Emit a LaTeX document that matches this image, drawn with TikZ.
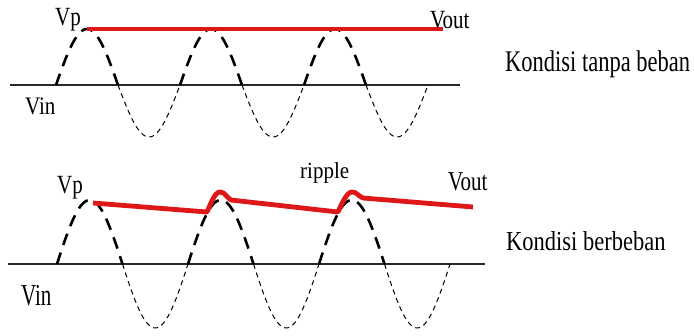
\documentclass[tikz,border=0pt]{standalone}
\usepackage{fontspec}
\setmainfont{Liberation Serif}
\definecolor{redline}{RGB}{222,24,24}
\definecolor{axisgray}{RGB}{40,40,40}
\tikzset{
  axisline/.style={draw=axisgray, line width=1.3pt},
  poswave/.style={line width=2.6pt, dash pattern=on 12pt off 8pt, black},
  negwave/.style={line width=1pt, dash pattern=on 5pt off 4pt, black},
  outline/.style={draw=redline, line width=4.8pt, line join=round},
  lbl/.style={inner sep=0pt, anchor=base west, font=\fontsize{21}{21}\selectfont},
  bigl/.style={inner sep=0pt, anchor=base west, font=\fontsize{22.5}{22.5}\selectfont}
}
\begin{document}
\begin{tikzpicture}[x=1pt,y=-1pt]
\useasboundingbox (0,0) rectangle (694,335);
\fill[white] (0,0) rectangle (694,335);

% ---------- top panel ----------
\draw[axisline] (10,85) -- (460,85);
\foreach \a/\b in {56/118,180/242,304/366}{
  \draw[poswave] plot[domain=\a:\b, samples=40, smooth] ({\x},{85-56*sin(2.903226*(\x-56))});
}
\foreach \a/\b in {118/180,242/304,366/428}{
  \draw[negwave] plot[domain=\a:\b, samples=40, smooth] ({\x},{85-52*sin(2.903226*(\x-56))});
}
\draw[outline] (87,29) -- (443,29);
\node[lbl] (vp1) at (55,25) {\scalebox{1}[1.25]{Vp}};
\node[lbl] (vin1) at (25,114) {\scalebox{1}[1.2]{Vin}};
\node[lbl] (vout1) at (430,28) {\scalebox{1}[1.25]{Vout}};
\node[bigl] (k1) at (505,71.5) {\scalebox{1}[1.33]{Kondisi tanpa beban}};

% ---------- bottom panel ----------
\draw[axisline] (8,264) -- (485,264);
\foreach \a/\b in {57/122.5,188/253.5,319/384.5}{
  \draw[poswave] plot[domain=\a:\b, samples=40, smooth] ({\x},{264-64*sin(2.748092*(\x-57))});
}
\foreach \a/\b in {122.5/188,253.5/319,384.5/450}{
  \draw[negwave] plot[domain=\a:\b, samples=40, smooth] ({\x},{264-64*sin(2.748092*(\x-57))});
}
\draw[outline] (93,203) -- (207,212)
  .. controls (211,203) and (215,192) .. (220,192)
  .. controls (225,192) and (226,197) .. (231,200)
  -- (338,212)
  .. controls (342,203) and (347,192) .. (352,192)
  .. controls (357,192) and (358,196) .. (363,198)
  -- (473,207);
\node[lbl] (vp2) at (57,193) {\scalebox{1}[1.25]{Vp}};
\node[lbl] (vin2) at (21,305) {\scalebox{1}[1.45]{Vin}};
\node[lbl] (rip) at (300,178) {\scalebox{1}[1.1]{ripple}};
\node[lbl] (vout2) at (448,190) {\scalebox{1}[1.3]{Vout}};
\node[bigl] (k2) at (506,250) {\scalebox{1}[1.22]{Kondisi berbeban}};
\end{tikzpicture}
\end{document}
